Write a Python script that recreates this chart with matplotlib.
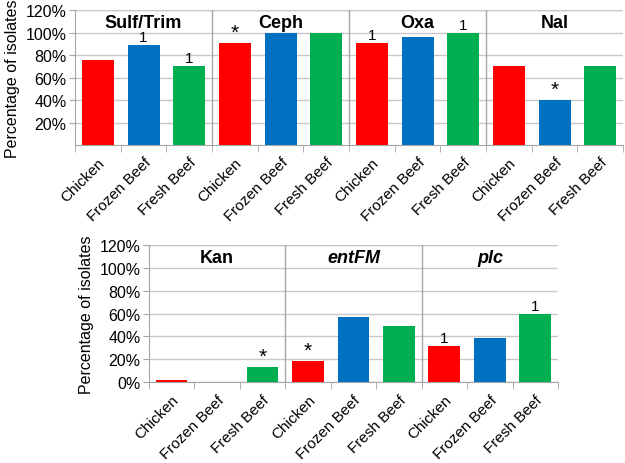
import matplotlib
matplotlib.use("Agg")
import matplotlib.pyplot as plt
import numpy as np

plt.rcParams["font.family"] = ["Liberation Sans", "DejaVu Sans"]

SOURCES = ["Chicken", "Frozen Beef", "Fresh Beef"]
COLORS = ["#FF0000", "#0070C0", "#00B050"]

# top panel: antibiotics
top_groups = ["Sulf/Trim", "Ceph", "Oxa", "Nal"]
top_values = [
    [76, 89, 70],
    [91, 100, 100],
    [91, 96, 100],
    [70, 40, 70],
]
top_marks = [
    ["", "1", "1"],
    ["*", "", ""],
    ["1", "", "1"],
    ["", "*", ""],
]

# bottom panel: Kan + toxin genes
bot_groups = ["Kan", "entFM", "plc"]
bot_italic = [False, True, True]
bot_values = [
    [2, 0, 13.5],
    [19, 57, 49.5],
    [31.5, 38.5, 59.5],
]
bot_marks = [
    ["", "", "*"],
    ["*", "", ""],
    ["1", "", "1"],
]

GRID = "#C8C8C8"
SEP = "#A6A6A6"


def panel(ax, groups, values, marks, yticks, italic=None):
    vals = [v for g in values for v in g]
    cols = COLORS * len(groups)
    n = len(vals)
    x = np.arange(n)
    ax.bar(x, vals, width=0.7, color=cols, zorder=3)

    ax.set_xlim(-0.5, n - 0.5)
    ax.set_ylim(0, 120)
    ax.set_yticks(yticks)
    ax.set_yticklabels([f"{t}%" for t in yticks], fontsize=11.5)
    ax.grid(axis="y", color=GRID, lw=1, zorder=0)
    ax.set_axisbelow(True)
    ax.axhline(120, color=GRID, lw=1, zorder=0)

    # group separators
    for k in range(1, len(groups)):
        ax.axvline(3 * k - 0.5, color=SEP, lw=1, zorder=1)

    ax.set_xticks(x)
    ax.set_xticklabels(SOURCES * len(groups), rotation=45, ha="right",
                       rotation_mode="anchor", fontsize=11)
    ax.set_xticks(np.arange(n + 1) - 0.5, minor=True)
    ax.tick_params(axis="x", which="major", length=0, pad=7)
    ax.tick_params(axis="x", which="minor", length=5, color=SEP)
    ax.tick_params(axis="y", length=4, color=SEP, pad=2)

    for s in ["top", "right"]:
        ax.spines[s].set_visible(False)
    for s in ["left", "bottom"]:
        ax.spines[s].set_color(SEP)
        ax.spines[s].set_zorder(2)

    for gi, name in enumerate(groups):
        style = "italic" if italic and italic[gi] else "normal"
        ax.text(3 * gi + 1, 109, name, ha="center", va="center",
                fontsize=13, fontweight="bold", fontstyle=style)

    for i, (v, m) in enumerate(zip(vals, [mm for g in marks for mm in g])):
        if m == "*":
            ax.text(i, v + 1, m, ha="center", va="bottom", fontsize=15)
        elif m:
            ax.text(i, v + 1, m, ha="center", va="bottom", fontsize=11)

    ax.set_ylabel("Percentage of isolates", fontsize=11.5, labelpad=4)


fig = plt.figure(figsize=(6.25, 4.64), dpi=100)
fig.patch.set_facecolor("white")

ax1 = fig.add_axes([0.12, 0.685, 0.877, 0.291])
panel(ax1, top_groups, top_values, top_marks, [20, 40, 60, 80, 100, 120])

ax2 = fig.add_axes([0.238, 0.174, 0.655, 0.296])
panel(ax2, bot_groups, bot_values, bot_marks, [0, 20, 40, 60, 80, 100, 120],
      italic=bot_italic)

fig.savefig("out.png", dpi=100)
